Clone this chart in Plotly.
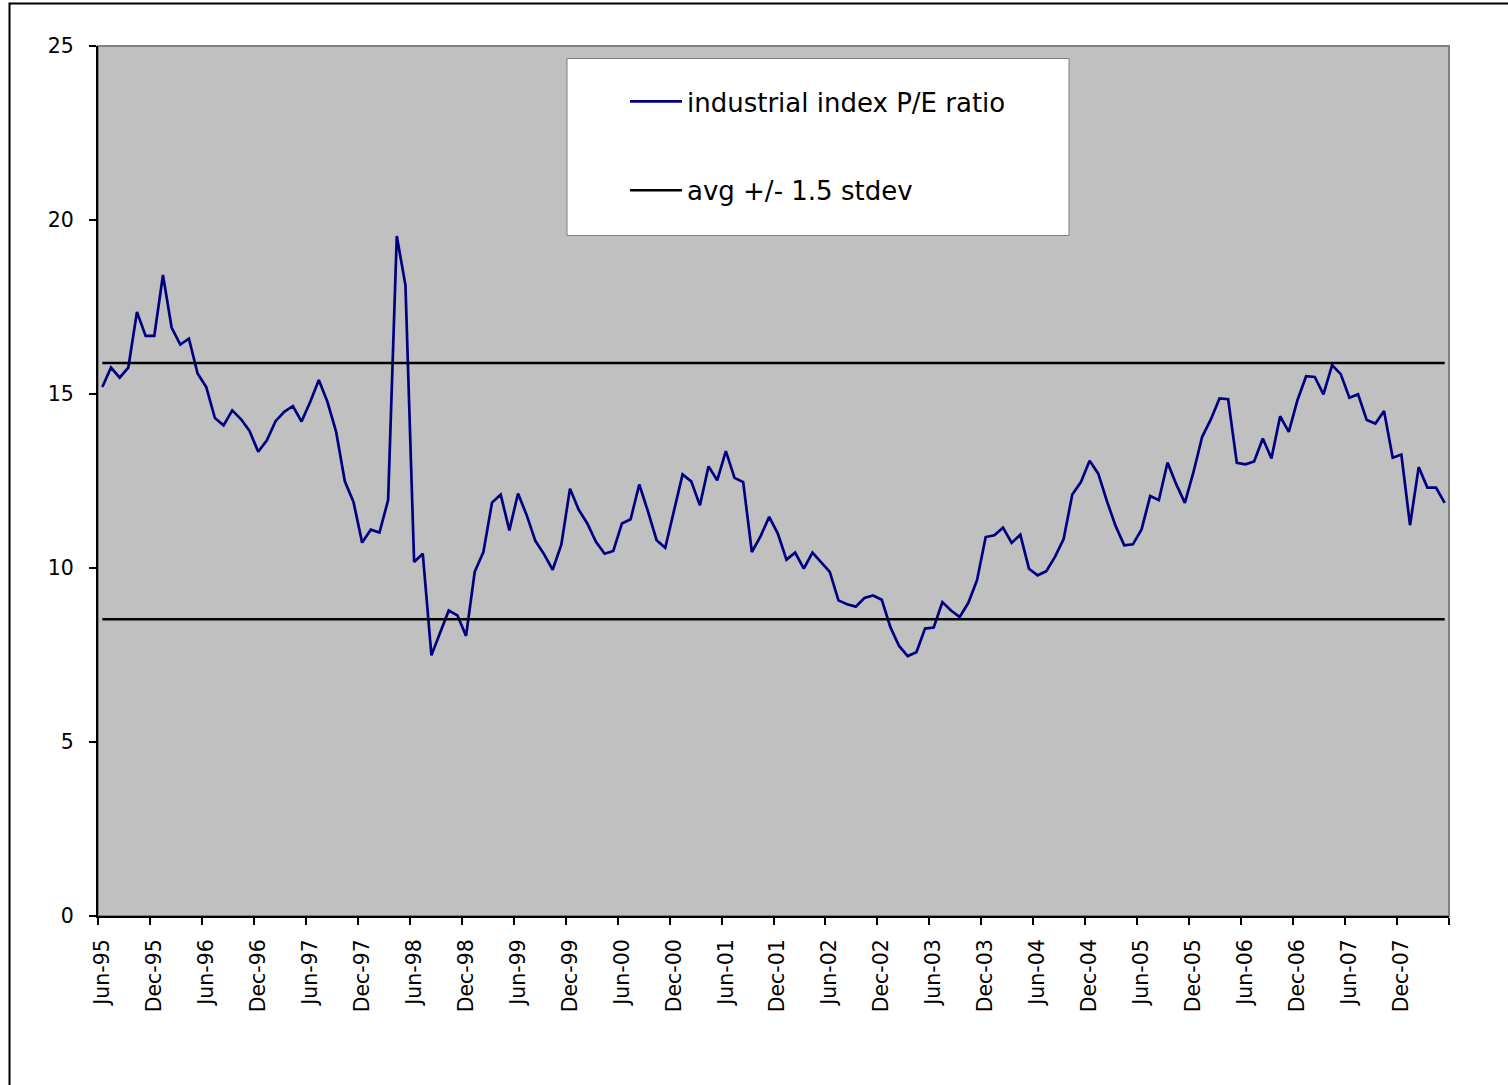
import pandas as pd
import plotly.graph_objects as go

# monthly categories, Jun-95 .. May-08
months = pd.date_range("1995-06-01", periods=156, freq="MS").strftime("%b-%y").tolist()

pe_ratio = [
    15.20, 15.76, 15.47, 15.76, 17.36, 16.67, 16.67, 18.42, 16.91, 16.42, 16.59, 15.59, 15.20,
    14.31, 14.10, 14.53, 14.28, 13.94, 13.34, 13.67, 14.22, 14.49, 14.65, 14.21, 14.77, 15.40,
    14.77, 13.91, 12.49, 11.90, 10.73, 11.10, 11.02, 11.95, 19.54, 18.13, 10.17, 10.41, 7.49,
    8.11, 8.78, 8.64, 8.05, 9.89, 10.46, 11.88, 12.11, 11.08, 12.14, 11.52, 10.78, 10.40,
    9.95, 10.67, 12.28, 11.68, 11.28, 10.75, 10.41, 10.49, 11.28, 11.40, 12.40, 11.63, 10.80,
    10.58, 11.66, 12.69, 12.49, 11.80, 12.92, 12.52, 13.36, 12.59, 12.47, 10.46, 10.91, 11.47,
    10.99, 10.24, 10.44, 9.98, 10.44, 10.17, 9.89, 9.07, 8.96, 8.89, 9.14, 9.21, 9.09,
    8.30, 7.76, 7.47, 7.58, 8.26, 8.29, 9.02, 8.78, 8.59, 9.00, 9.65, 10.89, 10.94,
    11.16, 10.72, 10.96, 9.98, 9.79, 9.91, 10.32, 10.83, 12.11, 12.47, 13.08, 12.71, 11.92,
    11.21, 10.65, 10.68, 11.11, 12.07, 11.95, 13.03, 12.41, 11.87, 12.76, 13.77, 14.27, 14.87,
    14.85, 13.02, 12.98, 13.06, 13.72, 13.15, 14.36, 13.91, 14.82, 15.51, 15.49, 14.99, 15.83,
    15.57, 14.89, 14.99, 14.25, 14.15, 14.51, 13.17, 13.26, 11.23, 12.90, 12.31, 12.31, 11.87,
]

band_upper = 15.89  # avg + 1.5 stdev
band_lower = 8.53   # avg - 1.5 stdev

W, H = 1508, 1085
L, R, T, B = 98, 59, 46, 169
pw, ph = W - L - R, H - T - B


def px_x(x):
    return (x - L) / pw


def px_y(y):
    return (H - B - y) / ph


fig = go.Figure()

fig.add_trace(go.Scatter(
    x=months, y=pe_ratio, mode="lines",
    line=dict(color="#000080", width=2.7),
    name="industrial index P/E ratio", legendgroup="a",
))
fig.add_trace(go.Scatter(
    x=[months[0], months[-1]], y=[band_upper, band_upper], mode="lines",
    line=dict(color="black", width=2.5),
    name="avg +/- 1.5 stdev", legendgroup="b",
))
fig.add_trace(go.Scatter(
    x=[months[0], months[-1]], y=[band_lower, band_lower], mode="lines",
    line=dict(color="black", width=2.5),
    name="avg +/- 1.5 stdev", legendgroup="b", showlegend=False,
))

tick_font = dict(family="DejaVu Sans", size=20.5, color="black")

fig.update_xaxes(
    type="category", dtick=6, tickson="boundaries",
    tickangle=-90, tickfont=tick_font,
    ticks="outside", ticklen=7, tickwidth=1.5, tickcolor="black",
    showline=True, linecolor="black", linewidth=2,
    showgrid=False, zeroline=False,
    range=[-0.5, len(months) - 0.5],
    ticklabelstandoff=13,
)
fig.update_yaxes(
    range=[0, 25], dtick=5, tickfont=tick_font,
    ticks="outside", ticklen=7, tickwidth=1.5, tickcolor="black",
    showline=True, linecolor="black", linewidth=2,
    showgrid=False, zeroline=False,
    ticklabelstandoff=11,
)

shapes = [
    # outer chart frame
    dict(type="rect", xref="paper", yref="paper",
         x0=px_x(9.5), x1=px_x(1530), y0=px_y(1110), y1=px_y(3.5),
         line=dict(color="black", width=2), layer="below"),
    # plot area border (top/right in gray)
    dict(type="rect", xref="paper", yref="paper", x0=0, x1=1, y0=0, y1=1,
         line=dict(color="#808080", width=2), layer="below"),
    # legend box
    dict(type="rect", xref="paper", yref="paper",
         x0=px_x(567), x1=px_x(1069), y0=px_y(235.5), y1=px_y(58.5),
         fillcolor="white", line=dict(color="#808080", width=1), layer="above"),
]

fig.update_layout(
    width=W, height=H,
    margin=dict(l=L, r=R, t=T, b=B),
    paper_bgcolor="white", plot_bgcolor="#C0C0C0",
    shapes=shapes,
    showlegend=True,
    legend=dict(
        x=px_x(625), y=px_y(78), xanchor="left", yanchor="top",
        bgcolor="rgba(0,0,0,0)", borderwidth=0,
        font=dict(family="DejaVu Sans", size=26, color="black"),
        traceorder="grouped", tracegroupgap=52, itemwidth=52,
    ),
)

# drop the page's default body margin so the chart sits at the window origin
fig.write_html("out.html", config={"displayModeBar": False},
               post_script="document.body.style.margin='0';")
